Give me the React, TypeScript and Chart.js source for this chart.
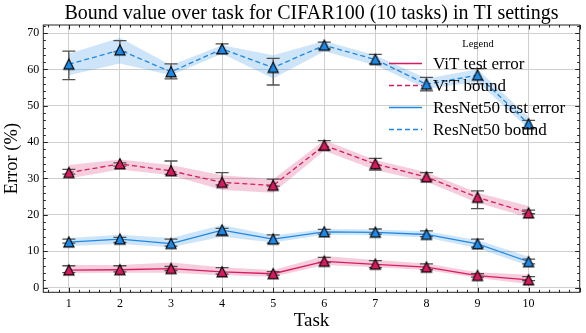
import React, { useEffect, useRef } from "react";
import { Chart, registerables } from "chart.js";

Chart.register(...registerables);

// ---------------- data ----------------
const tasks = [1, 2, 3, 4, 5, 6, 7, 8, 9, 10];
const yTickValues = [0, 10, 20, 30, 40, 50, 60, 70];

// ViT test error
const vitTest = [4.8, 4.9, 5.2, 4.3, 3.8, 7.2, 6.4, 5.6, 3.3, 2.1];
const vitTestErrLo = [4.1, 4.3, 4.7, 3.7, 3.4, 6.9, 5.5, 4.9, 2.9, 1.9];
const vitTestErrHi = [6.0, 6.0, 5.8, 5.5, 4.4, 8.3, 7.4, 6.5, 3.8, 3.0];
const vitTestBandHi = [6.2, 6.2, 6.9, 5.6, 4.8, 8.7, 7.6, 6.6, 4.2, 3.5];
const vitTestBandLo = [4.0, 4.1, 4.1, 3.4, 3.0, 6.2, 5.6, 4.8, 2.6, 1.0];

// ViT bound
const vitBound = [31.6, 34.0, 32.1, 28.9, 28.1, 39.1, 34.0, 30.4, 24.8, 20.5];
const vitBoundErrLo = [31.2, 33.4, 31.1, 28.2, 27.9, 37.8, 32.3, 29.6, 21.7, 20.3];
const vitBoundErrHi = [32.5, 34.3, 34.8, 31.6, 29.8, 40.4, 35.5, 31.6, 26.6, 21.3];
const vitBoundBandHi = [33.7, 35.2, 33.7, 30.9, 29.8, 40.5, 35.1, 31.7, 26.1, 22.4];
const vitBoundBandLo = [30.0, 32.5, 30.9, 26.8, 26.1, 37.6, 32.3, 29.1, 23.3, 19.3];

// ResNet50 test error
const rnTest = [12.5, 13.3, 12.1, 15.8, 13.3, 15.3, 15.2, 14.6, 12.0, 7.1];
const rnTestErrLo = [12.2, 12.4, 11.4, 14.2, 12.2, 14.7, 14.7, 14.0, 11.1, 6.5];
const rnTestErrHi = [13.3, 13.8, 13.3, 16.3, 14.5, 16.0, 16.1, 15.6, 13.3, 7.8];
const rnTestBandHi = [13.6, 14.5, 13.6, 17.2, 14.3, 16.1, 16.0, 15.5, 13.1, 8.5];
const rnTestBandLo = [11.4, 12.0, 11.1, 14.0, 12.4, 14.5, 14.4, 13.8, 10.8, 6.0];

// ResNet50 bound
const rnBound = [61.4, 65.3, 59.3, 65.6, 60.5, 66.6, 62.7, 55.9, 58.4, 45.0];
const rnBoundErrLo = [57.2, 64.8, 57.4, 64.4, 55.7, 65.6, 61.5, 54.1, 56.0, 44.0];
const rnBoundErrHi = [65.0, 67.9, 61.5, 67.0, 63.0, 67.5, 64.1, 57.8, 60.2, 46.0];
const rnBoundBandHi = [64.3, 68.7, 61.1, 66.6, 63.9, 67.8, 63.9, 57.5, 60.0, 46.9];
const rnBoundBandLo = [58.4, 61.6, 58.4, 64.3, 57.5, 65.0, 61.1, 54.7, 56.5, 43.7];

const legendLabels = ["ViT test error", "ViT bound", "ResNet50 test error", "ResNet50 bound"];

// ---------------- styles ----------------
const VIT = "#d81b60";
const RN = "#1e88e5";
const VIT_BAND = "rgba(216,27,96,0.22)";
const RN_BAND = "rgba(30,136,229,0.22)";
const SERIF = "'Liberation Serif', 'DejaVu Serif', serif";
const DASH = [5, 3];

function makeTriangle(fill: string) {
  const c = document.createElement("canvas");
  c.width = 14;
  c.height = 14;
  const g = c.getContext("2d")!;
  g.beginPath();
  g.moveTo(7, 1.8);
  g.lineTo(12.1, 11.9);
  g.lineTo(1.9, 11.9);
  g.closePath();
  g.fillStyle = fill;
  g.fill();
  g.lineWidth = 1.1;
  g.strokeStyle = "#000";
  g.lineJoin = "miter";
  g.stroke();
  return c;
}

const errSeries = [
  { lo: vitTestErrLo, hi: vitTestErrHi },
  { lo: vitBoundErrLo, hi: vitBoundErrHi },
  { lo: rnTestErrLo, hi: rnTestErrHi },
  { lo: rnBoundErrLo, hi: rnBoundErrHi },
];

function drawErrorBars(chart: any) {
  const ctx = chart.ctx;
  const xs = chart.scales.x;
  const ys = chart.scales.y;
  ctx.save();
  ctx.strokeStyle = "#505050";
  ctx.lineWidth = 1.3;
  const cap = 6.5;
  errSeries.forEach((s) => {
    tasks.forEach((t, i) => {
      const x = xs.getPixelForValue(t);
      const y1 = ys.getPixelForValue(s.lo[i]);
      const y2 = ys.getPixelForValue(s.hi[i]);
      ctx.beginPath();
      ctx.moveTo(x, y1);
      ctx.lineTo(x, y2);
      ctx.moveTo(x - cap, y1);
      ctx.lineTo(x + cap, y1);
      ctx.moveTo(x - cap, y2);
      ctx.lineTo(x + cap, y2);
      ctx.stroke();
    });
  });
  ctx.restore();
}

const errBarPlugin = {
  id: "errBars",
  beforeDatasetsDraw(chart: any) {
    chart.$errDone = false;
  },
  beforeDatasetDraw(chart: any, args: any) {
    const ds = chart.data.datasets[args.index];
    if (ds.isBand || chart.$errDone) return;
    chart.$errDone = true;
    drawErrorBars(chart);
  },
};

const framePlugin = {
  id: "frame",
  afterDatasetsDraw(chart: any) {
    const { ctx, chartArea: a } = chart;
    const xs = chart.scales.x;
    const ys = chart.scales.y;
    ctx.save();
    ctx.strokeStyle = "#222";
    ctx.lineWidth = 1;
    ctx.strokeRect(a.left, a.top, a.right - a.left, a.bottom - a.top);
    const major = 4.5;
    const minor = 2.5;
    ctx.beginPath();
    for (let k = 3; k <= 55; k++) {
      const v = k / 5;
      if (v < xs.min || v > xs.max) continue;
      const isMajor = k % 5 === 0;
      const len = isMajor ? major : minor;
      const x = Math.round(xs.getPixelForValue(v)) + 0.5;
      ctx.moveTo(x, a.bottom);
      ctx.lineTo(x, a.bottom - len);
      ctx.moveTo(x, a.top);
      ctx.lineTo(x, a.top + len);
    }
    for (let v = 0; v <= 72; v += 2) {
      if (v < ys.min || v > ys.max) continue;
      const isMajor = v % 10 === 0;
      const len = isMajor ? major : minor;
      const y = Math.round(ys.getPixelForValue(v)) + 0.5;
      ctx.moveTo(a.left, y);
      ctx.lineTo(a.left + len, y);
      ctx.moveTo(a.right, y);
      ctx.lineTo(a.right - len, y);
    }
    ctx.stroke();
    ctx.restore();
  },
};

const textPlugin = {
  id: "texts",
  afterDraw(chart: any) {
    const { ctx, chartArea: a } = chart;
    ctx.save();
    ctx.fillStyle = "#000";
    // title
    ctx.font = `20px ${SERIF}`;
    ctx.textAlign = "center";
    ctx.textBaseline = "alphabetic";
    ctx.fillText(
      "Bound value over task for CIFAR100 (10 tasks) in TI settings",
      (a.left + a.right) / 2,
      18.5
    );
    // x label
    ctx.font = `19px ${SERIF}`;
    ctx.fillText("Task", (a.left + a.right) / 2, 326);
    // y label
    ctx.save();
    ctx.translate(17, (a.top + a.bottom) / 2);
    ctx.rotate(-Math.PI / 2);
    ctx.font = `18.5px ${SERIF}`;
    ctx.textAlign = "center";
    ctx.fillText("Error (%)", 0, 0);
    ctx.restore();

    // legend
    ctx.font = `10.5px ${SERIF}`;
    ctx.textAlign = "center";
    ctx.textBaseline = "middle";
    ctx.fillText("Legend", 478, 44);
    const rows = [63.5, 85.5, 107.5, 129.5];
    const colors = [VIT, VIT, RN, RN];
    const dashed = [false, true, false, true];
    rows.forEach((y, i) => {
      ctx.strokeStyle = colors[i];
      ctx.lineWidth = 1.3;
      ctx.setLineDash(dashed[i] ? DASH : []);
      ctx.beginPath();
      ctx.moveTo(389, y);
      ctx.lineTo(422, y);
      ctx.stroke();
      ctx.setLineDash([]);
      ctx.font = `17px ${SERIF}`;
      ctx.textAlign = "left";
      ctx.textBaseline = "middle";
      ctx.fillStyle = "#000";
      ctx.fillText(legendLabels[i], 433, y + 1);
    });
    ctx.restore();
  },
};

export default function App() {
  const ref = useRef<HTMLCanvasElement>(null);
  useEffect(() => {
    document.body.style.margin = "0";
    const triVit = makeTriangle(VIT);
    const triRn = makeTriangle(RN);
    const band = (hi: number[], lo: number[], color: string) => [
      {
        label: "bandHi",
        isBand: true,
        data: hi,
        borderWidth: 0,
        pointRadius: 0,
        backgroundColor: color,
        fill: "+1",
        order: 5,
      },
      {
        label: "bandLo",
        isBand: true,
        data: lo,
        borderWidth: 0,
        pointRadius: 0,
        backgroundColor: color,
        fill: false,
        order: 5,
      },
    ];
    const line = (label: string, data: number[], color: string, dash: boolean, tri: any) => ({
      label,
      data,
      borderColor: color,
      borderWidth: 1.3,
      borderDash: dash ? DASH : [],
      pointStyle: tri,
      pointRadius: 5,
      fill: false,
      order: 1,
    });
    const chart = new Chart(ref.current!, {
      type: "line",
      data: {
        labels: tasks,
        datasets: [
          ...band(vitTestBandHi, vitTestBandLo, VIT_BAND),
          ...band(vitBoundBandHi, vitBoundBandLo, VIT_BAND),
          ...band(rnTestBandHi, rnTestBandLo, RN_BAND),
          ...band(rnBoundBandHi, rnBoundBandLo, RN_BAND),
          line(legendLabels[0], vitTest, VIT, false, triVit),
          line(legendLabels[1], vitBound, VIT, true, triVit),
          line(legendLabels[2], rnTest, RN, false, triRn),
          line(legendLabels[3], rnBound, RN, true, triRn),
        ] as any,
      },
      options: {
        responsive: false,
        animation: false,
        devicePixelRatio: 1,
        layout: { padding: { left: 0, right: 5, top: 25, bottom: 0 } },
        plugins: {
          legend: { display: false },
          title: { display: false },
          tooltip: { enabled: false },
        },
        elements: { line: { tension: 0 } },
        scales: {
          x: {
            type: "linear",
            min: 0.5,
            max: 11.0,
            afterBuildTicks: (s: any) => {
              s.ticks = tasks.map((v) => ({ value: v }));
            },
            afterFit: (s: any) => {
              s.height = 40.7;
            },
            grid: { color: "#cfcfcf", lineWidth: 1, drawTicks: false },
            border: { display: false },
            ticks: {
              padding: 4,
              color: "#000",
              font: { family: SERIF, size: 12 },
              maxRotation: 0,
              autoSkip: false,
            },
          },
          y: {
            type: "linear",
            min: -1.3,
            max: 72.2,
            afterBuildTicks: (s: any) => {
              s.ticks = yTickValues.map((v) => ({ value: v }));
            },
            afterFit: (s: any) => {
              s.width = 43.3;
            },
            grid: { color: "#cfcfcf", lineWidth: 1, drawTicks: false },
            border: { display: false },
            ticks: {
              padding: 4,
              color: "#000",
              font: { family: SERIF, size: 12 },
              autoSkip: false,
            },
          },
        },
      },
      plugins: [errBarPlugin, framePlugin, textPlugin],
    } as any);
    return () => chart.destroy();
  }, []);
  return (
    <div style={{ width: 586, height: 333 }}>
      <canvas ref={ref} width={586} height={333} style={{ display: "block" }} />
    </div>
  );
}
